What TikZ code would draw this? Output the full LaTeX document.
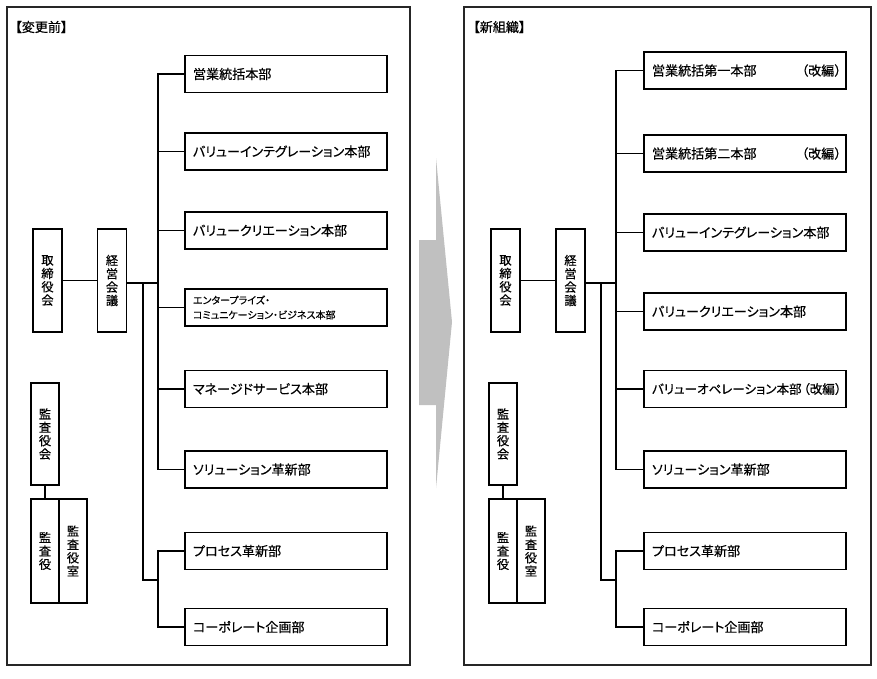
\documentclass[tikz,border=0pt]{standalone}
\usepackage{fontspec}
\newfontfamily\jpfont[RawFeature=+palt, FakeBold=0.5]{Noto Sans CJK JP}
\newfontfamily\jpwide[FakeBold=0.5]{Noto Sans CJK JP}
\definecolor{arrowgray}{HTML}{C0C0C0}
\newcommand\kaihen[1]{\hbox to 139.5pt{#1\hfill（{\jpwide 改編）}\kern-7pt}}
\begin{document}
\begin{tikzpicture}[x=0.75pt, y=-0.75pt,
            waku/.style={draw=black!85, line width=0.8pt},
            bu/.style={rectangle, draw, line width=1.4pt, minimum height=27.75pt, text width=139.5pt, inner xsep=6pt, inner ysep=0pt, align=left, font=\jpfont\fontsize{9.8}{11}\selectfont},
            tate/.style={rectangle, draw, line width=1.4pt, minimum width=21.75pt, minimum height=77.25pt, inner sep=0pt, align=center, font=\jpfont\fontsize{9.2}{10}\selectfont},
            kansa/.style={tate, minimum width=21pt, minimum height=78pt},
            midashi/.style={anchor=west, inner sep=0pt, font=\jpfont\fontsize{9.8}{11}\selectfont},
            sen/.style={line width=1.4pt}
        ]
            \useasboundingbox (0,0) rectangle (877,678);
            % frames
            \draw[waku] (7,7) rectangle (410,665);
            \draw[waku] (464,7) rectangle (871,665);
            \node(oldtitle) at (15,27) [midashi] {【変更前】};
            \node(newtitle) at (473,27) [midashi] {【新組織】};

            % arrow
            \fill[arrowgray] (419,240) -- (436,240) -- (436,158) -- (452,322) -- (436,488) -- (436,405) -- (419,405) -- cycle;

            % before
            \node(oldtori) at (47.5,280.5) [tate] {取\\締\\役\\会};
            \node(oldkeiei) at (112,280.5) [tate] {経\\営\\会\\議};
            \node(oldkansakai) at (45,434) [tate, minimum width=21pt, minimum height=76.5pt] {監\\査\\役\\会};
            \node(oldkansayaku) at (45,551) [kansa] {監\\査\\役};
            \node(oldkansashitsu) at (73,551) [kansa] {監\\査\\役\\室};
            \node(old1) at (286,74) [bu] {営業統括本部};
            \node(old2) at (286,151.5) [bu] {バリューインテグレーション本部};
            \node(old3) at (286,230.5) [bu] {バリュークリエーション本部};
            \node(old4) at (286,307.5) [bu, font=\jpfont\fontsize{7.5}{11}\selectfont] {エンタープライズ・\\コミュニケーション・ビジネス本部};
            \node(old5) at (286,389) [bu] {マネージドサービス本部};
            \node(old6) at (286,469.5) [bu] {ソリューション革新部};
            \node(old7) at (286,551) [bu] {プロセス革新部};
            \node(old8) at (286,627) [bu] {コーポレート企画部};
            \coordinate(oldbus) at (158,283);
            \coordinate(oldsub) at (143,283);
            \coordinate(oldbus2) at (158,580);
            \draw[sen] (oldtori) -- (oldkeiei);
            \draw[sen] (oldkeiei.east |- oldbus) -- (oldbus);
            \draw[sen] (old1.west) -| (oldbus) |- (old6.west);
            \draw[sen] (old2.west) -- (old2.west -| oldbus);
            \draw[sen] (old3.west) -- (old3.west -| oldbus);
            \draw[sen] (old4.west) -- (old4.west -| oldbus);
            \draw[sen] (old5.west) -- (old5.west -| oldbus);
            \draw[sen] (oldsub) |- (oldbus2);
            \draw[sen] (old7.west) -| (oldbus2) |- (old8.west);
            \draw[sen] (oldkansakai) -- (oldkansayaku);

            % after
            \node(newtori) at (505.5,280.5) [tate] {取\\締\\役\\会};
            \node(newkeiei) at (570.5,280.5) [tate] {経\\営\\会\\議};
            \node(newkansakai) at (503,434) [tate, minimum width=21pt, minimum height=76.5pt] {監\\査\\役\\会};
            \node(newkansayaku) at (503,551) [kansa] {監\\査\\役};
            \node(newkansashitsu) at (531,551) [kansa] {監\\査\\役\\室};
            \node(new1) at (745,70.5) [bu] {\kaihen{営業統括第一本部}};
            \node(new2) at (745,153.5) [bu] {\kaihen{営業統括第二本部}};
            \node(new3) at (745,232.5) [bu] {バリューインテグレーション本部};
            \node(new4) at (745,311.5) [bu] {バリュークリエーション本部};
            \node(new5) at (745,389) [bu, font=\jpfont\fontsize{9.4}{11}\selectfont] {\kaihen{バリューオペレーション本部}};
            \node(new6) at (745,469.5) [bu] {ソリューション革新部};
            \node(new7) at (745,551) [bu] {プロセス革新部};
            \node(new8) at (745,627) [bu] {コーポレート企画部};
            \coordinate(newbus) at (616,283);
            \coordinate(newsub) at (601,283);
            \coordinate(newbus2) at (616,580);
            \draw[sen] (newtori) -- (newkeiei);
            \draw[sen] (newkeiei.east |- newbus) -- (newbus);
            \draw[sen] (new1.west) -| (newbus) |- (new6.west);
            \draw[sen] (new2.west) -- (new2.west -| newbus);
            \draw[sen] (new3.west) -- (new3.west -| newbus);
            \draw[sen] (new4.west) -- (new4.west -| newbus);
            \draw[sen] (new5.west) -- (new5.west -| newbus);
            \draw[sen] (newsub) |- (newbus2);
            \draw[sen] (new7.west) -| (newbus2) |- (new8.west);
            \draw[sen] (newkansakai) -- (newkansayaku);
        \end{tikzpicture}
\end{document}
